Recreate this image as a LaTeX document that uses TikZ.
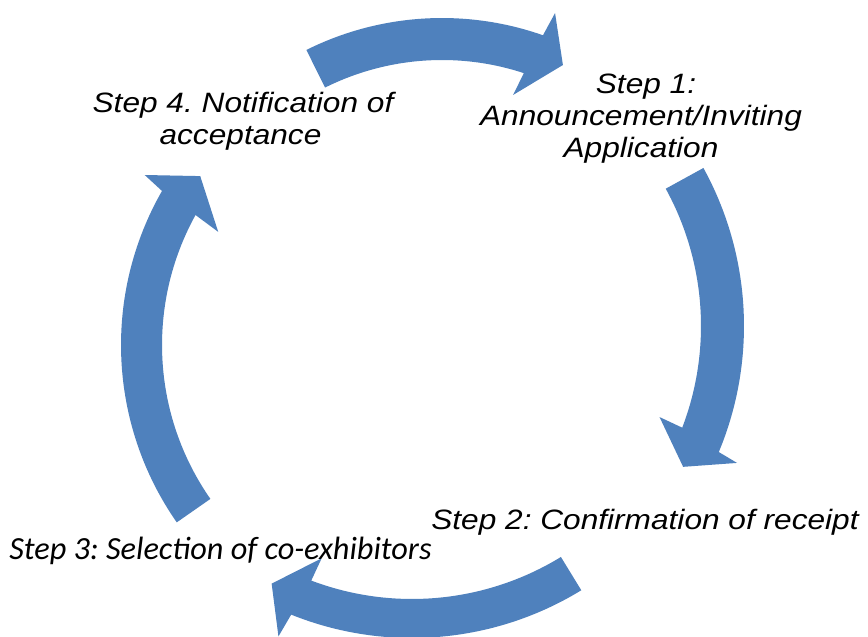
\documentclass[tikz,border=0pt]{standalone}
\usepackage{fontspec}
\usetikzlibrary{calc}
\newfontfamily\arialf[FakeStretch=1.13]{Liberation Sans}
\newfontfamily\calf{Carlito}
\definecolor{arrowblue}{HTML}{4F81BD}
\frenchspacing
\begin{document}
\begin{tikzpicture}[x=1pt,y=-1pt,
  arrowfill/.style={fill=arrowblue},
  steptext/.style={font=\arialf\itshape\fontsize{28}{32}\selectfont, inner sep=0pt, anchor=base, text=black},
  steptextc/.style={font=\calf\itshape\fontsize{32.3}{36}\selectfont, inner sep=0pt, anchor=base, text=black}]
\useasboundingbox (0,0) rectangle (868,637);
\clip (0,0) rectangle (868,637);
\fill[white] (0,0) rectangle (868,637);
% centres of the four curved arrows
\coordinate (c1) at (442,322);
\coordinate (c2) at (416,326);
\coordinate (c3) at (412,314);
\coordinate (c4) at (431,345);
% top arrow (towards Step 1)
\fill[arrowfill] ($(c1)+(-116.5:304)$) arc[start angle=-116.5, end angle=-70.6, radius=304]
  -- ($(c1)+(-69.9:329)$) -- ($(c1)+(-64.8:284)$) -- ($(c1)+(-72.6:238)$) -- ($(c1)+(-71.8:262)$)
  arc[start angle=-71.8, end angle=-116.5, radius=262] -- cycle;
% right arrow (towards Step 2)
\fill[arrowfill] ($(c2)+(-28.8:328)$) arc[start angle=-28.8, end angle=22.6, radius=328]
  -- ($(c2)+(23.1:349)$) -- ($(c2)+(27.8:302)$) -- ($(c2)+(20.5:260)$) -- ($(c2)+(20.9:285)$)
  arc[start angle=20.9, end angle=-28.8, radius=285] -- cycle;
% bottom arrow (towards Step 3)
\fill[arrowfill] ($(c3)+(58.5:324)$) arc[start angle=58.5, end angle=111.9, radius=324]
  -- ($(c3)+(112.5:349)$) -- ($(c3)+(117.5:304)$) -- ($(c3)+(110.3:260.5)$) -- ($(c3)+(110.7:285)$)
  arc[start angle=110.7, end angle=58.5, radius=285] -- cycle;
% left arrow (towards Step 4)
\fill[arrowfill] ($(c4)+(145.1:310)$) arc[start angle=145.1, end angle=209.8, radius=310]
  -- ($(c4)+(210.7:333)$) -- ($(c4)+(216.2:286)$) -- ($(c4)+(208:241)$) -- ($(c4)+(208.9:269)$)
  arc[start angle=208.9, end angle=145.1, radius=269] -- cycle;
% texts
\node[steptext] (s1a) at (646,93) {Step 1:};
\node[steptext] (s1b) at (641,125) {Announcement/Inviting};
\node[steptext] (s1c) at (641,157) {Application};
\node[steptext] (s2) at (645,529) {Step 2: Confirmation of receipt};
\node[steptextc] (s3) at (220.5,559) {Step 3: Selection of co-exhibitors};
\node[steptext] (s4a) at (243,112) {Step 4. Notification of};
\node[steptext] (s4b) at (240.5,144) {acceptance};
\end{tikzpicture}
\end{document}
